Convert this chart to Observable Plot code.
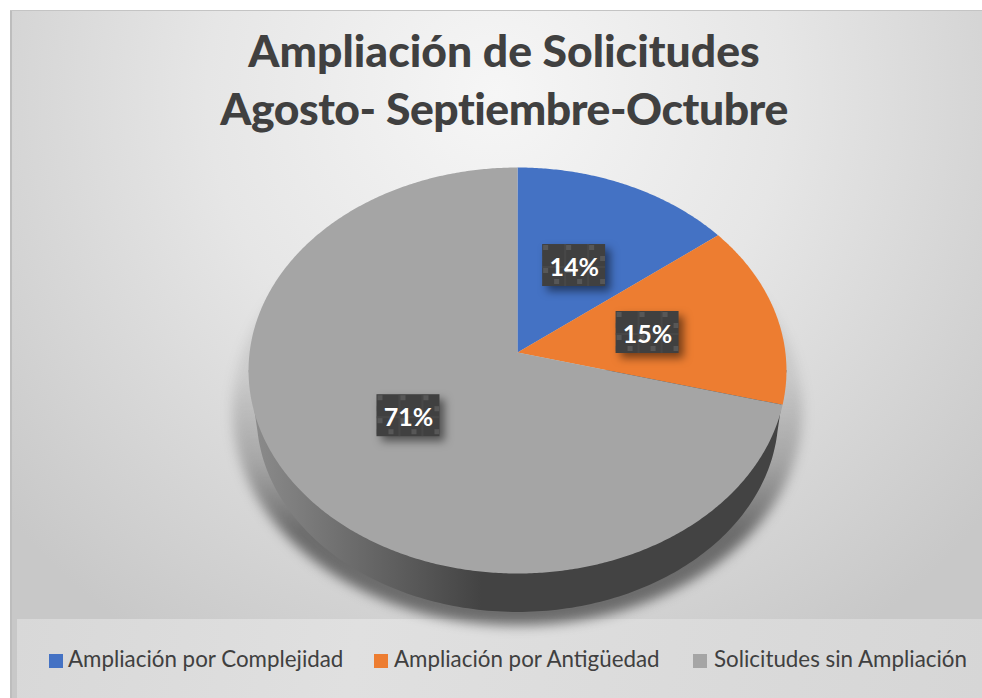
<!DOCTYPE html>
<html><head><meta charset="utf-8">
<script src="https://cdn.jsdelivr.net/npm/d3@7"></script>
<script src="https://cdn.jsdelivr.net/npm/@observablehq/plot@0.6"></script>
<style>
html,body{margin:0;padding:0;background:#fff;width:982px;height:698px;overflow:hidden}
#chart{position:absolute;left:10px;top:10px;width:972px;height:688px;border-top:1px solid #c4c4c4;box-sizing:border-box;
 background:radial-gradient(ellipse 66% 95% at 50% 12%,#f6f6f6 0%,#e6e6e6 45%,#c8c8c8 100%);font-family:Lato,sans-serif}
#edge{position:absolute;left:10px;top:11px;width:2px;height:687px;background:#bdbdbd}
#band{position:absolute;left:17px;top:619px;width:965px;height:79px;background:linear-gradient(100deg,#d8d8d8,#e0e0e0 35%,#d6d6d6)}
#title{position:absolute;left:10px;top:21px;width:988px;text-align:center;color:#404040;font:900 44.5px/58px Lato,sans-serif}
#title span{letter-spacing:-0.46px}
#plot{position:absolute;left:0;top:0}
.lg{position:absolute;top:644px;color:#404040;font:22.35px/30px Lato,sans-serif;white-space:nowrap}
.sw{position:absolute;top:654px;width:14px;height:14px}
</style></head><body>
<div id="chart"></div><div id="edge"></div><div id="band"></div>
<div id="plot"></div>
<div id="title">Ampliación de Solicitudes<br><span>Agosto- Septiembre-Octubre</span></div>
<div id="legend"></div>
<script>
const categories = ["Ampliación por Complejidad","Ampliación por Antigüedad","Solicitudes sin Ampliación"];
const shares = [14.49, 14.6, 70.91];
const labels = ["14%","15%","71%"];
const colors = ["#4472c4","#ed7d31","#a5a5a5"];
const swatchLeft = [49,374,693];
const textLeft = [68,394,714];

// oblique view of the disc: apex stays off-centre, as in the 3D pie
const k = 0.0887, sx = 267.9/269, sy = 201.4/203;
function project(deg, r=1, scale=1, drop=0){
  const t = deg*Math.PI/180, u = r*Math.sin(t), v = r*Math.cos(t), w = 1+k*v;
  return {x: scale*sx*u/w, y: scale*sy*v/w - drop};
}
const total = d3.sum(shares);
let acc = 0;
const sliceRows = [], labelRows = [];
shares.forEach((s,i)=>{
  const a0 = acc/total*360, a1 = (acc+s)/total*360; acc += s;
  sliceRows.push({category:categories[i],...project(0,0)});
  for(let a=a0;a<a1;a+=0.5) sliceRows.push({category:categories[i],...project(a)});
  sliceRows.push({category:categories[i],...project(a1)});
  labelRows.push({label:labels[i],...project((a0+a1)/2,0.5)});
});
const angles = d3.range(0,360.5,1);
const wallRows = [project(95), ...d3.range(100,261,1).map(a=>project(a,1,0.97,0.222)), project(265)];
const shadowRows = angles.map(a=>project(a,1,1.06,0.19));
const hw = 31.5/269, hh = 21/203;

const plot = Plot.plot({
  width:982,height:698,margin:0,
  x:{domain:[-1,1],range:[248,786],axis:null},
  y:{domain:[-1,1],range:[352+203,352-203],axis:null},
  color:{domain:categories,range:colors},
  style:{background:"transparent",overflow:"visible"},
  marks:[
    Plot.line(shadowRows,{x:"x",y:"y",fill:"url(#shadow)",stroke:"none",imageFilter:"blur(6px)"}),
    Plot.line(wallRows,{x:"x",y:"y",fill:"url(#wall)",stroke:"none"}),
    Plot.line(sliceRows,{x:"x",y:"y",z:"category",fill:"category",stroke:"none"}),
    Plot.rect(labelRows,{x1:d=>d.x-hw,x2:d=>d.x+hw,y1:d=>d.y-hh,y2:d=>d.y+hh,fill:"#404040",imageFilter:"drop-shadow(5px 5px 4px rgba(0,0,0,.5))"}),
    Plot.rect(labelRows,{x1:d=>d.x-hw,x2:d=>d.x+hw,y1:d=>d.y-hh,y2:d=>d.y+hh,fill:"url(#tile)"}),
    Plot.text(labelRows,{x:"x",y:"y",dy:2,text:"label",fill:"#ffffff",fontSize:25,fontWeight:700,fontFamily:"Lato, sans-serif"})
  ]
});
d3.select(plot).insert("defs",":first-child").html(`
 <linearGradient id="wall" gradientUnits="userSpaceOnUse" x1="250" x2="800" y1="0" y2="0">
  <stop offset="0" stop-color="#8c8c8c"/><stop offset=".42" stop-color="#434343"/><stop offset="1" stop-color="#434343"/>
 </linearGradient>
 <linearGradient id="shadow" gradientUnits="userSpaceOnUse" x1="0" x2="0" y1="375" y2="530">
  <stop offset="0" stop-color="#555" stop-opacity=".14"/><stop offset=".55" stop-color="#555" stop-opacity=".38"/><stop offset="1" stop-color="#444" stop-opacity=".72"/>
 </linearGradient>
 <pattern id="tile" width="1" height="1">
  <g fill="#575757">
   <rect x="1" y="1" width="5" height="5"/><rect x="24" y="1" width="5" height="5"/><rect x="47" y="1" width="5" height="5"/>
   <rect x="58" y="12" width="5" height="5"/><rect x="1" y="24" width="5" height="5"/><rect x="24" y="24" width="5" height="5"/><rect x="47" y="24" width="5" height="5"/>
   <rect x="12" y="35" width="5" height="5"/><rect x="35" y="35" width="5" height="5"/><rect x="58" y="35" width="5" height="5"/>
  </g>
  <path d="M23 0V42M46 0V42M0 23H63" stroke="#4d4d4d" stroke-width="1" fill="none"/>
 </pattern>`);
document.getElementById("plot").appendChild(plot);
const lg = d3.select("#legend");
categories.forEach((c,i)=>{
  lg.append("div").attr("class","sw").style("left",swatchLeft[i]+"px").style("background",colors[i]);
  lg.append("div").attr("class","lg").style("left",textLeft[i]+"px").text(c);
});
</script>
</body></html>
